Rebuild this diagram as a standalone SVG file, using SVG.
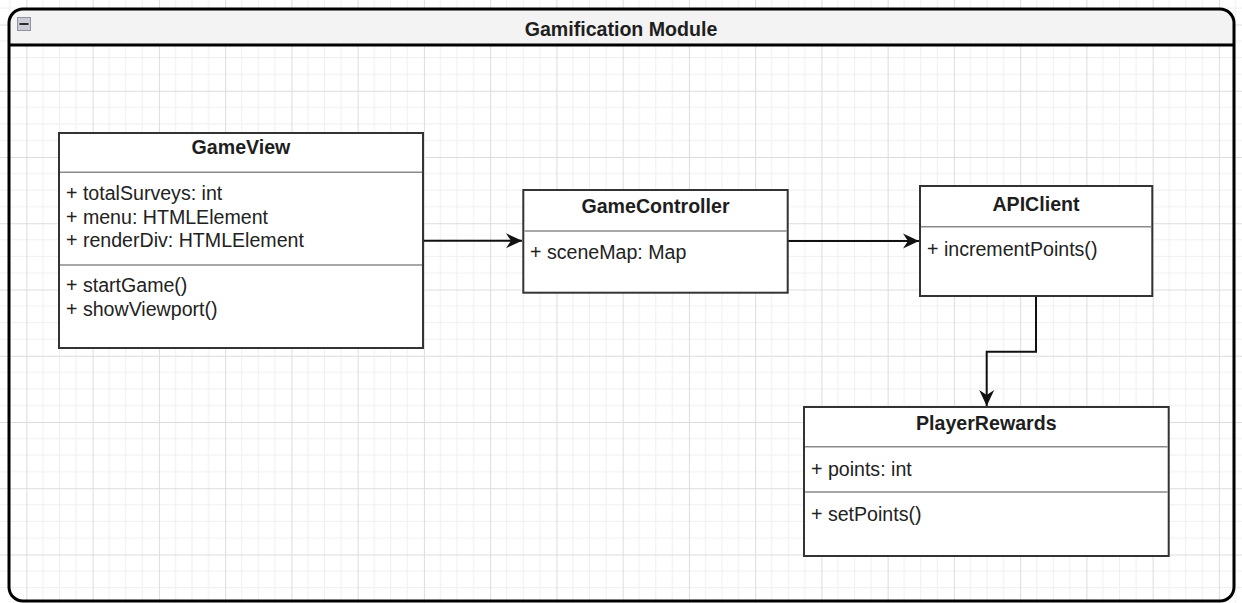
<svg xmlns="http://www.w3.org/2000/svg" width="1242" height="603" viewBox="0 0 1242 603">
  <style>
    .box { fill: #ffffff; stroke: #333333; stroke-width: 2; }
    .sep { stroke: #8a8a8a; stroke-width: 1.5; }
    .title { font-family: "Liberation Sans", Arial, sans-serif; font-size: 19.6px; font-weight: bold; fill: #1e1e1e; text-anchor: middle; }
    .member { font-family: "Liberation Sans", Arial, sans-serif; font-size: 19.6px; fill: #222222; }
    .edge { fill: none; stroke: #111111; stroke-width: 2; }
  </style>
  <defs>
    <pattern id="grid" patternUnits="userSpaceOnUse" x="26.4" y="24.5" width="66.25" height="66.25">
      <path d="M16.56,0 V66.25 M33.12,0 V66.25 M49.69,0 V66.25 M0,16.56 H66.25 M0,33.12 H66.25 M0,49.69 H66.25" stroke="#efefef" stroke-width="1" fill="none"/>
      <path d="M0.5,0 V66.25 M0,0.5 H66.25" stroke="#dcdcdc" stroke-width="1" fill="none"/>
    </pattern>
    <marker id="arrow" markerUnits="userSpaceOnUse" markerWidth="17" markerHeight="16" refX="16" refY="8" orient="auto">
      <path d="M0,0.5 L16,8 L0,15.5 L5,8 Z" fill="#111111"/>
    </marker>
  </defs>

  <!-- canvas grid -->
  <rect x="0" y="0" width="1242" height="603" fill="#ffffff"/>
  <rect x="0" y="0" width="1242" height="603" fill="url(#grid)"/>

  <!-- module container -->
  <g id="gamification-module">
    <path d="M9,45 V23 A14,14 0 0 1 23,9 H1220 A14,14 0 0 1 1234,23 V45 Z" fill="#f3f3f3"/>
    <rect x="9" y="9" width="1225" height="592" rx="14" ry="14" fill="none" stroke="#000000" stroke-width="3"/>
    <line x1="9" y1="45" x2="1234" y2="45" stroke="#000000" stroke-width="3"/>
    <rect x="17.5" y="17.5" width="13" height="13" fill="#c8cbd5" stroke="#8c92a4" stroke-width="1"/>
    <line x1="19.5" y1="24" x2="28.5" y2="24" stroke="#2a2a2a" stroke-width="2"/>
    <text class="title" x="621" y="35.5">Gamification Module</text>
  </g>

  <!-- connectors -->
  <g id="connectors">
    <path class="edge" d="M423,240.7 H522" marker-end="url(#arrow)"/>
    <path class="edge" d="M787.7,241 H919" marker-end="url(#arrow)"/>
    <path class="edge" d="M1036,296 V351.7 H986.7 V406" marker-end="url(#arrow)"/>
  </g>

  <g id="GameView">
    <rect class="box" x="59" y="133" width="364" height="215"/>
    <line class="sep" x1="60" y1="172.3" x2="422" y2="172.3"/>
    <line class="sep" x1="60" y1="265" x2="422" y2="265"/>
    <text class="title" x="241" y="154">GameView</text>
    <text class="member" x="66" y="200">+ totalSurveys: int</text>
    <text class="member" x="66" y="223.5">+ menu: HTMLElement</text>
    <text class="member" x="66" y="247">+ renderDiv: HTMLElement</text>
    <text class="member" x="66" y="292">+ startGame()</text>
    <text class="member" x="66" y="315.5">+ showViewport()</text>
  </g>

  <g id="GameController">
    <rect class="box" x="523.3" y="190" width="264.4" height="102.7"/>
    <line class="sep" x1="524.3" y1="231" x2="786.7" y2="231"/>
    <text class="title" x="655.5" y="213">GameController</text>
    <text class="member" x="530" y="259">+ sceneMap: Map</text>
  </g>

  <g id="APIClient">
    <rect class="box" x="920" y="186" width="232.3" height="110"/>
    <line class="sep" x1="921" y1="226.7" x2="1151.3" y2="226.7"/>
    <text class="title" x="1036" y="210.5">APIClient</text>
    <text class="member" x="927" y="256">+ incrementPoints()</text>
  </g>

  <g id="PlayerRewards">
    <rect class="box" x="804" y="407" width="364.7" height="149"/>
    <line class="sep" x1="805" y1="446.7" x2="1167.7" y2="446.7"/>
    <line class="sep" x1="805" y1="492" x2="1167.7" y2="492"/>
    <text class="title" x="986.3" y="430">PlayerRewards</text>
    <text class="member" x="811" y="475.5">+ points: int</text>
    <text class="member" x="811" y="520.5">+ setPoints()</text>
  </g>
</svg>
